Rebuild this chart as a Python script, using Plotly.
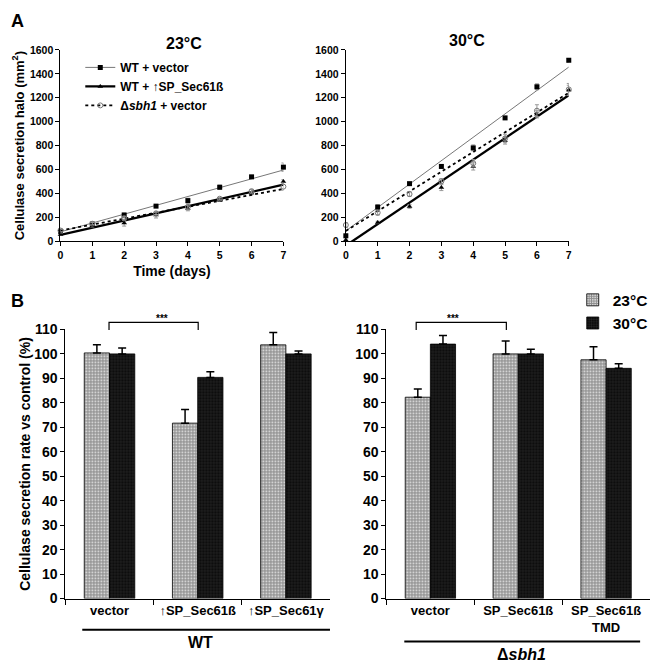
import plotly.graph_objects as go

W, H = 656, 670
def px(x): return x / W
def py(y): return 1 - y / H

# ---------------- Panel A data ----------------
days = [0, 1, 2, 3, 4, 5, 6, 7]
series_names = ["WT + vector", "WT + ↑SP_Sec61ß", "Δ<i>sbh1</i> + vector"]

a23_wt_vector = [84, 144, 220, 294, 340, 452, 539, 620]
a23_wt_sp = [57, 130, 152, 220, 275, 343, 403, 500]
a23_sbh1_vector = [90, 147, 193, 234, 288, 356, 419, 457]
a23_err_wt_vector = [10, 12, 15, 8, 20, 18, 10, 35]
a23_err_wt_sp = [8, 10, 25, 25, 20, 10, 12, 15]
a23_err_sbh1 = [10, 10, 15, 10, 25, 10, 15, 30]

a30_wt_vector = [46, 286, 482, 626, 781, 1032, 1292, 1514]
a30_wt_sp = [10, 158, 291, 449, 626, 843, 1062, 1265]
a30_sbh1_vector = [136, 239, 395, 503, 653, 860, 1092, 1270]
a30_err_wt_vector = [15, 20, 10, 15, 25, 10, 25, 15]
a30_err_wt_sp = [10, 10, 15, 25, 30, 30, 30, 40]
a30_err_sbh1 = [20, 20, 20, 20, 30, 35, 50, 50]

# linear trendline endpoints (value at day 0, value at day 7)
trend_days = [0, 7]
t23_wt_vector = [79, 596]
t23_wt_sp = [54, 473]
t23_sbh1 = [90, 438]
t30_wt_vector = [87, 1457]
t30_wt_sp = [-36, 1222]
t30_sbh1 = [87, 1242]

# ---------------- Panel B data ----------------
wt_categories = ["vector", "↑SP_Sec61ß", "↑SP_Sec61γ"]
sbh1_categories = ["vector", "SP_Sec61ß", "SP_Sec61ß<br>TMD"]
wt_23 = [100.4, 71.7, 103.7]
wt_23_err = [3.3, 5.6, 5.1]
wt_30 = [100.0, 90.4, 100.0]
wt_30_err = [2.4, 2.3, 1.2]
sbh1_23 = [82.3, 100.0, 97.6]
sbh1_23_err = [3.4, 5.3, 5.3]
sbh1_30 = [104.0, 100.0, 94.1]
sbh1_30_err = [3.5, 1.9, 1.9]
temps = ["23°C", "30°C"]

FONT = "Liberation Sans, Arial, sans-serif"

def f(size):
    return dict(size=size, family=FONT, weight="bold", color="black")

fig = go.Figure()

marker_styles = [
    dict(symbol="square", size=5, color="black"),
    dict(symbol="triangle-up", size=5, color="black"),
    dict(symbol="circle-open", size=5, color="#777", line=dict(width=1, color="#777")),
]
line_styles = [
    dict(color="#777", width=1),
    dict(color="black", width=2.3),
    dict(color="black", width=1.8, dash="dot"),
]

panels = [
    ("x", "y", [a23_wt_vector, a23_wt_sp, a23_sbh1_vector],
     [a23_err_wt_vector, a23_err_wt_sp, a23_err_sbh1],
     [t23_wt_vector, t23_wt_sp, t23_sbh1]),
    ("x2", "y2", [a30_wt_vector, a30_wt_sp, a30_sbh1_vector],
     [a30_err_wt_vector, a30_err_wt_sp, a30_err_sbh1],
     [t30_wt_vector, t30_wt_sp, t30_sbh1]),
]
for xa, ya, vals, errs, trends in panels:
    for i in range(3):
        fig.add_trace(go.Scatter(
            x=trend_days, y=trends[i], mode="lines", line=line_styles[i],
            xaxis=xa, yaxis=ya, showlegend=False, hoverinfo="skip"))
        fig.add_trace(go.Scatter(
            x=days, y=vals[i], mode="markers", marker=marker_styles[i],
            error_y=dict(type="data", array=errs[i], color="#999", thickness=1, width=2),
            xaxis=xa, yaxis=ya, showlegend=False, cliponaxis=False))

# legend entries for panel A (line + marker)
for i in range(3):
    fig.add_trace(go.Scatter(
        x=[None], y=[None], mode="lines+markers", name=series_names[i],
        line=line_styles[i], marker=marker_styles[i], xaxis="x", yaxis="y",
        legend="legend"))

# ---------------- Bars ----------------
pat23 = dict(shape="+", size=3, solidity=0.7, fgcolor="#1a1a1a", bgcolor="white")
pat30 = dict(shape="+", size=3, solidity=0.25, fgcolor="#555", bgcolor="#0d0d0d")

bar_sets = [
    ("x3", "y3", wt_categories, wt_23, wt_23_err, wt_30, wt_30_err, True),
    ("x4", "y4", sbh1_categories, sbh1_23, sbh1_23_err, sbh1_30, sbh1_30_err, False),
]
for xa, ya, cats, v23, e23, v30, e30, show in bar_sets:
    fig.add_trace(go.Bar(
        x=cats, y=v23, name=temps[0], xaxis=xa, yaxis=ya,
        marker=dict(pattern=pat23, line=dict(color="black", width=0.8)),
        error_y=dict(type="data", array=e23, arrayminus=[0] * 3, symmetric=False,
                     color="black", thickness=1.5, width=4),
        showlegend=show, legend="legend2", offsetgroup="a"))
    fig.add_trace(go.Bar(
        x=cats, y=v30, name=temps[1], xaxis=xa, yaxis=ya,
        marker=dict(pattern=pat30, line=dict(color="black", width=0.8)),
        error_y=dict(type="data", array=e30, arrayminus=[0] * 3, symmetric=False,
                     color="black", thickness=1.5, width=4),
        showlegend=show, legend="legend2", offsetgroup="b"))

axis_common = dict(showline=True, linecolor="black", linewidth=1.2, ticks="outside",
                   ticklen=4, tickcolor="black", showgrid=False, zeroline=False,
                   tickfont=f(10.5))

yA_domain = [py(239), py(43)]
yB_domain = [py(605), py(329.3)]

fig.update_layout(
    width=W, height=H, margin=dict(l=0, r=0, t=0, b=0),
    paper_bgcolor="white", plot_bgcolor="white",
    font=dict(family=FONT, color="black", weight="bold"),
    barmode="group", bargap=0.427, bargroupgap=0,
    xaxis=dict(axis_common, domain=[px(58), px(283)], range=[0, 7], dtick=1, anchor="y",
               title=dict(text="Time (days)", font=f(14), standoff=6)),
    yaxis=dict(axis_common, domain=yA_domain, range=[0, 1600], dtick=200, anchor="x",
               title=dict(text="Cellulase secretion halo (mm<sup>2</sup>)",
                          font=f(13), standoff=2)),
    xaxis2=dict(axis_common, domain=[px(346), px(571)], range=[0, 7], dtick=1, anchor="y2"),
    yaxis2=dict(axis_common, domain=yA_domain, range=[0, 1600], dtick=200, anchor="x2"),
    xaxis3=dict(axis_common, domain=[px(63), px(330)], anchor="y3", tickson="boundaries",
                ticklen=5, tickfont=f(13)),
    yaxis3=dict(axis_common, domain=yB_domain, range=[0, 110], dtick=10, anchor="x3",
                tickfont=f(14),
                title=dict(text="Cellulase secretion rate vs control (%)",
                           font=f(14), standoff=0)),
    xaxis4=dict(axis_common, domain=[px(387), px(653)], anchor="y4", tickson="boundaries",
                ticklen=5, tickfont=f(13)),
    yaxis4=dict(axis_common, domain=yB_domain, range=[0, 110], dtick=10, anchor="x4",
                tickfont=f(14)),
    legend=dict(x=px(78), y=py(46), xanchor="left", yanchor="top", bgcolor="rgba(0,0,0,0)",
                font=f(12), itemwidth=30, tracegroupgap=0),
    legend2=dict(x=px(575), y=py(282), xanchor="left", yanchor="top", bgcolor="rgba(0,0,0,0)",
                 font=f(15.5), itemwidth=30, traceorder="normal"),
)

anns = [
    dict(text="A", x=px(6), y=py(13), size=18, anchor="left"),
    dict(text="B", x=px(6), y=py(300), size=18, anchor="left"),
    dict(text="23°C", x=px(183), y=py(36), size=16, anchor="center"),
    dict(text="30°C", x=px(468), y=py(33), size=16, anchor="center"),
    dict(text="WT", x=px(199), y=py(650), size=16, anchor="center"),
    dict(text="Δ<i>sbh1</i>", x=px(523), y=py(662), size=16, anchor="center"),
]
for a in anns:
    fig.add_annotation(text=a["text"], x=a["x"], y=a["y"], xref="paper", yref="paper",
                       showarrow=False, xanchor=a["anchor"], yanchor="middle",
                       font=f(a["size"]))

# significance brackets
for x0, x1 in [(107, 197), (417, 508)]:
    top, bot = 322, 330
    fig.add_shape(type="path", xref="paper", yref="paper",
                  path=f"M {px(x0)} {py(bot)} L {px(x0)} {py(top)} L {px(x1)} {py(top)} L {px(x1)} {py(bot)}",
                  line=dict(color="black", width=1.2))
    fig.add_annotation(text="***", xref="paper", yref="paper", x=px((x0 + x1) / 2), y=py(318),
                       showarrow=False, yanchor="middle", font=f(10))

# group underlines
fig.add_shape(type="line", xref="paper", yref="paper", x0=px(80), x1=px(330),
              y0=py(637), y1=py(637), line=dict(color="black", width=2))
fig.add_shape(type="line", xref="paper", yref="paper", x0=px(405), x1=px(643),
              y0=py(649), y1=py(649), line=dict(color="black", width=2))

fig.write_html("out.html", config={"displayModeBar": False},
               post_script="document.body.style.margin='0px';")
